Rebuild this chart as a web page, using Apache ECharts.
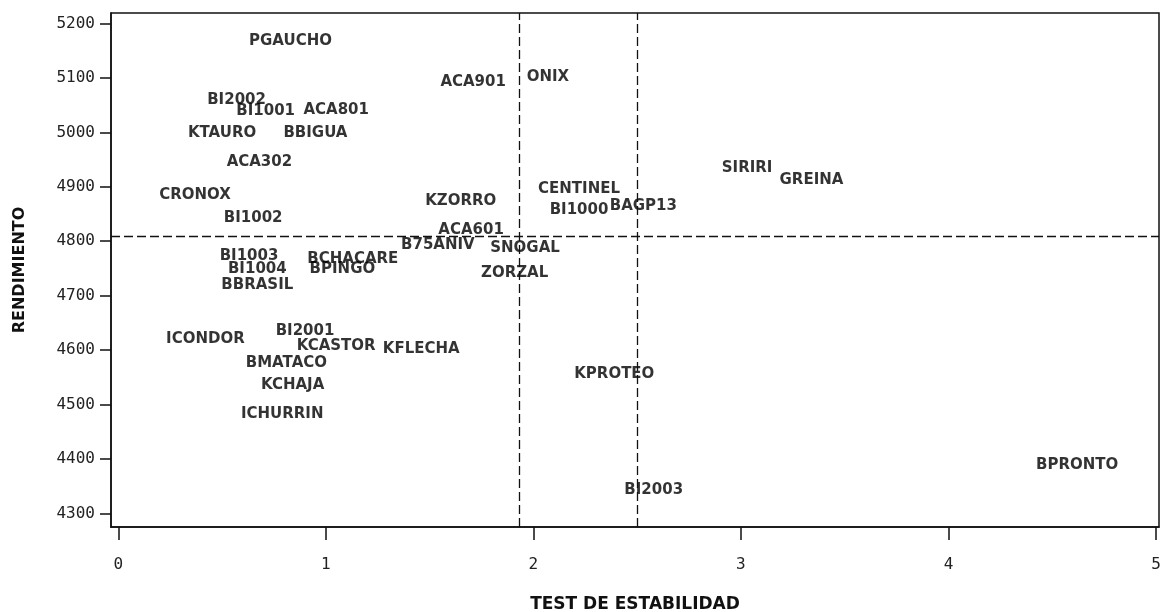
<!DOCTYPE html>
<html>
<head>
<meta charset="utf-8">
<title>Rendimiento vs Test de estabilidad</title>
<script src="https://cdn.jsdelivr.net/npm/echarts@6/dist/echarts.min.js"></script>
<style>
  html, body { margin: 0; padding: 0; background: #fff; }
  #chart { width: 1160px; height: 612px; }
</style>
</head>
<body>
<div id="chart"></div>
<script>
// variedades (etiquetas), test de estabilidad (x) y rendimiento (y)
var names = ['PGAUCHO','BI2002','BI1001','ACA801','KTAURO','BBIGUA','ACA302','CRONOX','BI1002',
             'BI1003','BCHACARE','BI1004','BPINGO','BBRASIL','ICONDOR','BI2001','KCASTOR','KFLECHA',
             'BMATACO','KCHAJA','ICHURRIN','ACA901','ONIX','SIRIRI','GREINA','CENTINEL','KZORRO',
             'BI1000','BAGP13','ACA601','B75ANIV','SNOGAL','ZORZAL','KPROTEO','BI2003','BPRONTO'];
var estabilidad = [0.83,0.57,0.71,1.05,0.50,0.95,0.68,0.37,0.65,
                   0.63,1.13,0.67,1.08,0.67,0.42,0.90,1.05,1.46,
                   0.81,0.84,0.79,1.71,2.07,3.03,3.34,2.22,1.65,
                   2.22,2.53,1.70,1.54,1.96,1.91,2.39,2.58,4.62];
var rendimiento = [5167,5060,5039,5040,4999,4999,4946,4884,4843,
                   4772,4767,4748,4748,4720,4620,4634,4607,4601,
                   4577,4536,4483,5092,5101,4935,4913,4896,4873,
                   4858,4864,4821,4792,4788,4742,4556,4342,4389];
var xTicks = [0, 1, 2, 3, 4, 5];
var yTicks = [4300, 4400, 4500, 4600, 4700, 4800, 4900, 5000, 5100, 5200];
// lineas de referencia (medias)
var refX = [1.926, 2.5];
var refY = [4810];

var points = names.map(function (n, i) { return [estabilidad[i], rendimiento[i], n]; });
var refLines = refX.map(function (v) { return { xAxis: v }; })
    .concat(refY.map(function (v) { return { yAxis: v }; }));

var myChart = echarts.init(document.getElementById('chart'));
var option = {
    animation: false,
    backgroundColor: '#fff',
    grid: { left: 111, right: 1, top: 13, bottom: 85, outerBoundsMode: 'none',
            show: true, borderColor: '#111', borderWidth: 1.5 },
    xAxis: {
        type: 'value', min: -0.035, max: 5.0145,
        name: 'TEST DE ESTABILIDAD', nameLocation: 'middle', nameGap: 69,
        nameTextStyle: { fontFamily: 'DejaVu Sans', fontWeight: 'bold', fontSize: 17, color: '#111' },
        axisLine: { show: true, onZero: false, lineStyle: { color: '#111', width: 1.5 } },
        axisTick: { show: true, customValues: xTicks, length: 13, lineStyle: { color: '#111', width: 1.5 } },
        axisLabel: { customValues: xTicks, margin: 30, fontFamily: 'DejaVu Sans Mono', fontSize: 16, color: '#222',
                     formatter: function (v) { return String(v); } },
        splitLine: { show: false }
    },
    yAxis: {
        type: 'value', min: 4275, max: 5219.3,
        name: 'RENDIMIENTO', nameLocation: 'middle', nameGap: 83, nameRotate: 90,
        nameTextStyle: { fontFamily: 'DejaVu Sans', fontWeight: 'bold', fontSize: 16, color: '#111' },
        axisLine: { show: true, onZero: false, lineStyle: { color: '#111', width: 1.5 } },
        axisTick: { show: true, customValues: yTicks, length: 11, lineStyle: { color: '#111', width: 1.5 } },
        axisLabel: { customValues: yTicks, margin: 16, fontFamily: 'DejaVu Sans Mono', fontSize: 16, color: '#222',
                     formatter: function (v) { return String(v); } },
        splitLine: { show: false }
    },
    series: [{
        type: 'scatter',
        symbolSize: 1,
        itemStyle: { color: 'rgba(0,0,0,0)' },
        data: points,
        label: {
            show: true, position: 'inside',
            formatter: function (p) { return p.value[2]; },
            fontFamily: 'DejaVu Sans', fontWeight: 'bold', fontSize: 15, color: '#000',
            textBorderWidth: 0
        },
        labelLayout: { hideOverlap: false },
        markLine: {
            silent: true, symbol: 'none', animation: false,
            label: { show: false },
            lineStyle: { color: '#111', width: 1.3, type: [9, 4] },
            data: refLines
        }
    }]
};
myChart.setOption(option);
window.addEventListener('resize', function () {
    myChart.resize();
});
</script>
</body>
</html>
